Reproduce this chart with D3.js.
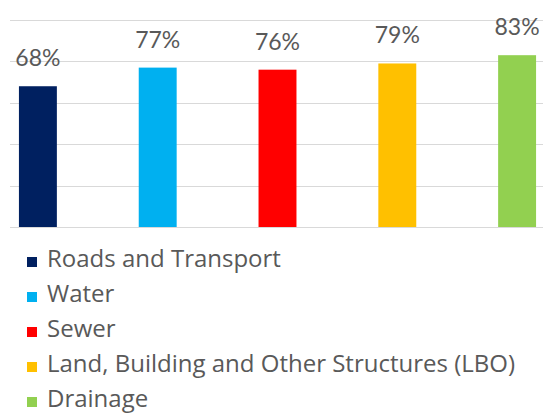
<!DOCTYPE html>
<html>
<head>
<meta charset="utf-8">
<script src="https://cdn.jsdelivr.net/npm/d3@7"></script>
<style>
  html, body { margin: 0; padding: 0; background: #fff; }
  svg { display: block; }
</style>
</head>
<body>
<svg id="chart" width="543" height="414"></svg>
<script>
// Share of projects per infrastructure category
const categories = ["Roads and Transport", "Water", "Sewer", "Land, Building and Other Structures (LBO)", "Drainage"];
const values = [68, 77, 76, 79, 83];
const colors = ["#002060", "#00B0F0", "#FF0000", "#FFC000", "#92D050"];
const gridTicks = [0, 20, 40, 60, 80, 100];

const svg = d3.select("#chart");
const W = 543;
const labelFont = "Lato, 'Open Sans', sans-serif";
const legendFont = "'Open Sans', Lato, sans-serif";
const textColor = "#595959";

const x = d3.scaleBand()
  .domain(categories)
  .range([-22, 577])
  .paddingInner(82 / 120)
  .paddingOuter(41 / 120);

const y = d3.scaleLinear()
  .domain([0, 100])
  .range([227, 20]);

// horizontal gridlines
svg.append("g")
  .selectAll("line")
  .data(gridTicks)
  .join("line")
  .attr("x1", 10)
  .attr("x2", W)
  .attr("y1", d => Math.round(y(d)) + 0.5)
  .attr("y2", d => Math.round(y(d)) + 0.5)
  .attr("stroke", "#d9d9d9")
  .attr("stroke-width", 1);

// bars
svg.append("g")
  .selectAll("rect")
  .data(categories)
  .join("rect")
  .attr("x", d => x(d))
  .attr("width", x.bandwidth())
  .attr("y", (d, i) => y(values[i]))
  .attr("height", (d, i) => y(0) - y(values[i]))
  .attr("fill", (d, i) => colors[i]);

// value labels
svg.append("g")
  .selectAll("text")
  .data(categories)
  .join("text")
  .attr("x", d => x(d) + x.bandwidth() / 2)
  .attr("y", (d, i) => y(values[i]) - 20)
  .attr("text-anchor", "middle")
  .attr("font-family", labelFont)
  .attr("font-size", 23)
  .attr("fill", textColor)
  .text((d, i) => values[i] + "%");

// legend
const legend = svg.append("g")
  .selectAll("g")
  .data(categories)
  .join("g")
  .attr("transform", (d, i) => `translate(0, ${267 + i * 35})`);

legend.append("rect")
  .attr("x", 27)
  .attr("y", -10)
  .attr("width", 10)
  .attr("height", 10)
  .attr("fill", (d, i) => colors[i]);

legend.append("text")
  .attr("x", 47)
  .attr("y", 0)
  .attr("font-family", legendFont)
  .attr("font-size", 24)
  .attr("fill", textColor)
  .text(d => d);
</script>
</body>
</html>
